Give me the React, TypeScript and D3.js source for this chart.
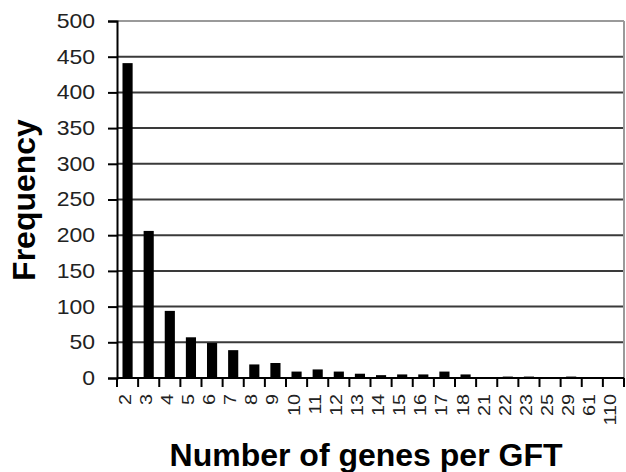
import React, { useEffect, useRef } from "react";
import * as d3 from "d3";

const categories = ["2","3","4","5","6","7","8","9","10","11","12","13","14","15","16","17","18","21","22","23","25","29","61","110"];
const frequencies = [441,206,94,57,49,39,19,21,9,12,9,6,4,5,5,9,5,1,2,2,1,2,1,1];
const yTicks = [0,50,100,150,200,250,300,350,400,450,500];

const W = 626, H = 472;
const M = { left: 117, right: 2, top: 21, bottom: 94 };
const FONT = "'Liberation Sans', Arial, sans-serif";

export default function App() {
  const ref = useRef<SVGSVGElement>(null);
  useEffect(() => {
    const svg = d3.select(ref.current);
    svg.selectAll("*").remove();
    const x = d3.scaleBand().domain(categories).range([M.left, W - M.right]).paddingInner(0.52).paddingOuter(0.26);
    const y = d3.scaleLinear().domain([0, 500]).range([H - M.bottom, M.top]);
    const x0 = M.left, x1 = W - M.right, y0 = y(0), yTop = y(500);

    // grid lines
    svg.append("g").selectAll("line").data(yTicks.filter(t => t > 0 && t < 500)).join("line")
      .attr("x1", x0).attr("x2", x1).attr("y1", d => y(d)).attr("y2", d => y(d))
      .attr("stroke", "#3a3a3a").attr("stroke-width", 2);
    // top & right border
    svg.append("line").attr("x1", x0).attr("x2", x1).attr("y1", yTop).attr("y2", yTop).attr("stroke", "#9a9a9a").attr("stroke-width", 2);
    svg.append("line").attr("x1", x1).attr("x2", x1).attr("y1", yTop).attr("y2", y0).attr("stroke", "#9a9a9a").attr("stroke-width", 2);

    // bars
    svg.append("g").selectAll("rect").data(frequencies).join("rect")
      .attr("x", (_, i) => x(categories[i])!)
      .attr("width", x.bandwidth())
      .attr("y", d => y(d))
      .attr("height", d => y0 - y(d))
      .attr("fill", "#000");

    // y axis
    const ya = svg.append("g").attr("transform", `translate(${x0},0)`)
      .call(d3.axisLeft(y).tickValues(yTicks).tickSize(9).tickPadding(10));
    ya.select(".domain").attr("stroke", "#000").attr("stroke-width", 2);
    ya.selectAll(".tick line").attr("stroke", "#000").attr("stroke-width", 2);
    ya.selectAll(".tick text").attr("font-family", FONT).attr("font-size", 20).attr("fill", "#222")
      .attr("transform", "scale(1.15,1)");

    // x axis
    const bounds = d3.range(categories.length + 1).map(i => x0 + i * ((x1 - x0) / categories.length));
    svg.append("line").attr("x1", x0).attr("x2", x1).attr("y1", y0).attr("y2", y0).attr("stroke", "#000").attr("stroke-width", 2);
    svg.append("g").selectAll("line").data(bounds).join("line")
      .attr("x1", d => d).attr("x2", d => d).attr("y1", y0).attr("y2", y0 + 9)
      .attr("stroke", "#000").attr("stroke-width", 2);
    svg.append("g").selectAll("text").data(categories).join("text")
      .attr("transform", d => `translate(${x(d)! + x.bandwidth() / 2 + 3},${y0 + 16}) rotate(-90) scale(1.2,1)`)
      .attr("text-anchor", "end")
      .attr("font-family", FONT).attr("font-size", 16.5).attr("fill", "#222")
      .text(d => d);

    // titles
    svg.append("text").attr("transform", `translate(35,200) rotate(-90)`)
      .attr("text-anchor", "middle").attr("font-family", FONT)
      .attr("font-weight", "bold").attr("font-size", 32).attr("fill", "#000").text("Frequency");
    svg.append("text").attr("x", 366).attr("y", 466)
      .attr("text-anchor", "middle").attr("font-family", FONT)
      .attr("font-weight", "bold").attr("font-size", 32).attr("fill", "#000").text("Number of genes per GFT");
  }, []);
  return (
    <svg ref={ref} width={W} height={H} style={{ position: "absolute", left: 0, top: 0, background: "#fff" }} />
  );
}
